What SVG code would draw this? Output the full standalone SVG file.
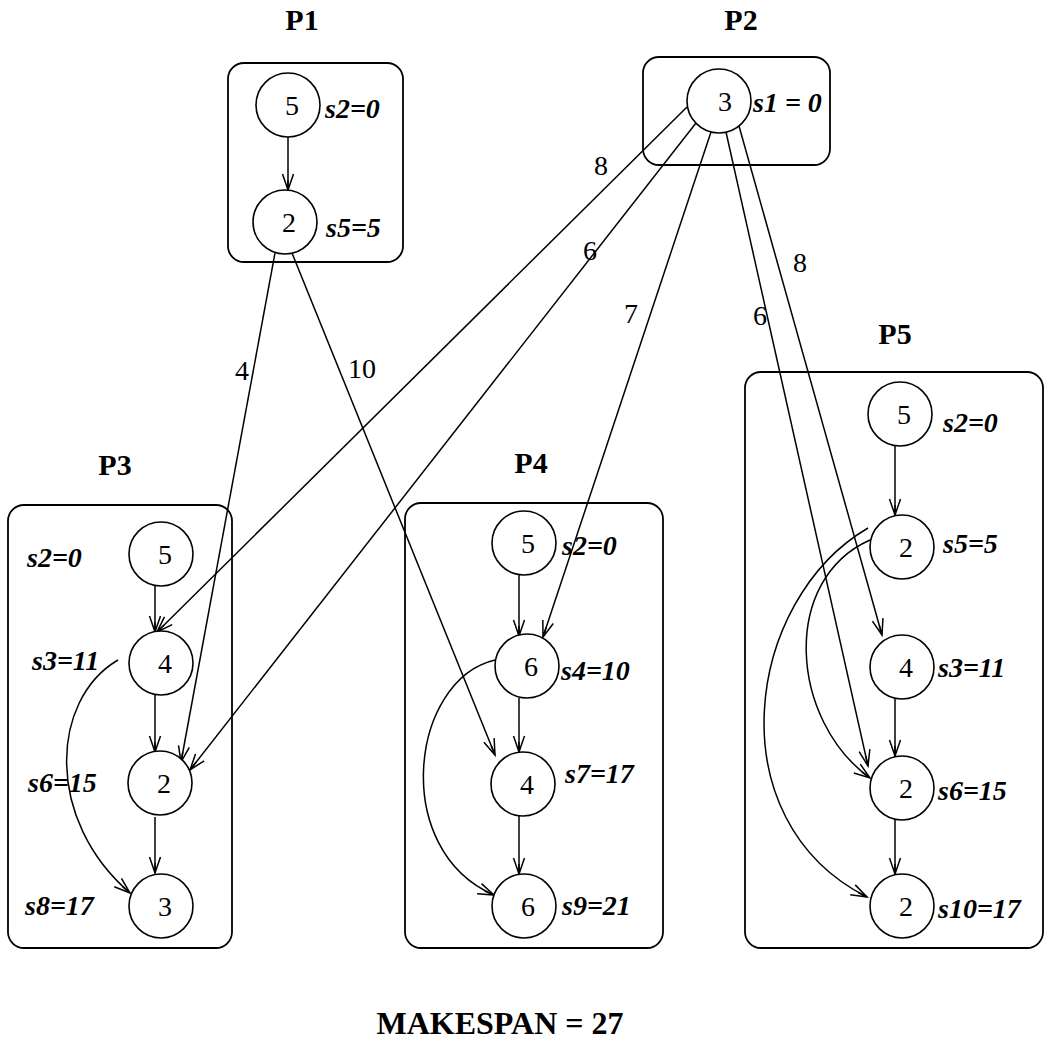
<svg xmlns="http://www.w3.org/2000/svg" width="1045" height="1045" viewBox="0 0 1045 1045">
<style>
  .box{fill:none;stroke:#000;stroke-width:1.8}
  .nd{fill:#fff;stroke:#000;stroke-width:1.6}
  .num{font-family:"Liberation Serif",serif;font-size:28px;text-anchor:middle;fill:#000}
  .lab{font-family:"Liberation Serif",serif;font-size:28px;font-weight:bold;font-style:italic;fill:#000}
  .ttl{font-family:"Liberation Serif",serif;font-size:30px;font-weight:bold;text-anchor:middle;fill:#000}
  .w{font-family:"Liberation Serif",serif;font-size:28px;text-anchor:middle;fill:#000}
  .e{fill:none;stroke:#000;stroke-width:1.5;marker-end:url(#ah)}
</style>
<defs>
  <marker id="ah" markerUnits="userSpaceOnUse" viewBox="-18 -8 20 16" refX="0" refY="0" markerWidth="20" markerHeight="16" orient="auto">
    <path d="M-16,-5.5 L0,0 L-16,5.5 M-10,0 L0,0" fill="none" stroke="#000" stroke-width="1.5"/>
  </marker>
</defs>
<rect width="1045" height="1045" fill="#fff"/>

<g id="titles">
  <text class="ttl" x="302" y="30">P1</text>
  <text class="ttl" x="741" y="30">P2</text>
  <text class="ttl" x="115" y="475">P3</text>
  <text class="ttl" x="531" y="473">P4</text>
  <text class="ttl" x="895" y="344">P5</text>
</g>

<g id="P1">
  <rect class="box" x="228" y="63" width="175" height="199" rx="16"/>
</g>
<g id="P2">
  <rect class="box" x="643" y="57" width="187" height="108" rx="16"/>
</g>
<g id="P3">
  <rect class="box" x="8" y="505" width="224" height="443" rx="16"/>
</g>
<g id="P4">
  <rect class="box" x="405" y="503" width="258" height="445" rx="16"/>
</g>
<g id="P5">
  <rect class="box" x="745" y="372" width="298" height="576" rx="16"/>
</g>

<g id="connectors">
  <!-- inside P1 -->
  <path class="e" d="M288,137 L288,190"/>
  <!-- from P1 node 2 -->
  <path class="e" d="M275,253 L181,762"/>
  <path class="e" d="M292,253 L495,755"/>
  <!-- from P2 node 3 -->
  <path class="e" d="M687,107 L157,632"/>
  <path class="e" d="M696,123 L190,770"/>
  <path class="e" d="M711,132 L543,637"/>
  <path class="e" d="M726,132 L868,766"/>
  <path class="e" d="M739,126 L882,635"/>
  <!-- inside P3 -->
  <path class="e" d="M155,585 L155,632"/>
  <path class="e" d="M155,695 L155,752"/>
  <path class="e" d="M155,817 L155,873"/>
  <path class="e" d="M118,660 C50,700 45,820 130,893"/>
  <!-- inside P4 -->
  <path class="e" d="M519,575 L519,636"/>
  <path class="e" d="M519,698 L519,752"/>
  <path class="e" d="M519,815 L519,874"/>
  <path class="e" d="M495,660 C410,680 390,850 494,895"/>
  <!-- inside P5 -->
  <path class="e" d="M895,445 L895,515"/>
  <path class="e" d="M895,698 L895,756"/>
  <path class="e" d="M895,820 L895,874"/>
  <path class="e" d="M870,540 C780,580 790,720 870,778"/>
  <path class="e" d="M868,528 C745,600 715,820 867,897"/>
</g>

<g id="edge-labels">
  <text class="w" x="601" y="175">8</text>
  <text class="w" x="590" y="260">6</text>
  <text class="w" x="631" y="323">7</text>
  <text class="w" x="760" y="325">6</text>
  <text class="w" x="800" y="272">8</text>
  <text class="w" x="242" y="380">4</text>
  <text class="w" x="362" y="378">10</text>
</g>

<g id="n-P1-a"><circle class="nd" cx="288" cy="105" r="32"/><text class="num" x="292" y="115">5</text><text class="lab" x="325" y="118">s2=0</text></g>
<g id="n-P1-b"><circle class="nd" cx="285" cy="222" r="32"/><text class="num" x="289" y="232">2</text><text class="lab" x="326" y="237">s5=5</text></g>
<g id="n-P2-a"><circle class="nd" cx="719" cy="101" r="32"/><text class="num" x="725" y="111">3</text><text class="lab" x="753" y="112">s1 = 0</text></g>

<g id="n-P3-a"><circle class="nd" cx="161" cy="554" r="32"/><text class="num" x="165" y="564">5</text><text class="lab" x="27" y="567">s2=0</text></g>
<g id="n-P3-b"><circle class="nd" cx="161" cy="663" r="32"/><text class="num" x="165" y="673">4</text><text class="lab" x="32" y="670">s3=11</text></g>
<g id="n-P3-c"><circle class="nd" cx="160" cy="783" r="32"/><text class="num" x="164" y="793">2</text><text class="lab" x="28" y="792">s6=15</text></g>
<g id="n-P3-d"><circle class="nd" cx="161" cy="906" r="32"/><text class="num" x="165" y="916">3</text><text class="lab" x="25" y="915">s8=17</text></g>

<g id="n-P4-a"><circle class="nd" cx="524" cy="543" r="32"/><text class="num" x="528" y="553">5</text><text class="lab" x="562" y="555">s2=0</text></g>
<g id="n-P4-b"><circle class="nd" cx="527" cy="666" r="32"/><text class="num" x="531" y="676">6</text><text class="lab" x="561" y="680">s4=10</text></g>
<g id="n-P4-c"><circle class="nd" cx="523" cy="784" r="32"/><text class="num" x="527" y="794">4</text><text class="lab" x="565" y="783">s7=17</text></g>
<g id="n-P4-d"><circle class="nd" cx="524" cy="906" r="32"/><text class="num" x="528" y="916">6</text><text class="lab" x="562" y="915">s9=21</text></g>

<g id="n-P5-a"><circle class="nd" cx="900" cy="414" r="32"/><text class="num" x="904" y="424">5</text><text class="lab" x="943" y="432">s2=0</text></g>
<g id="n-P5-b"><circle class="nd" cx="902" cy="547" r="32"/><text class="num" x="906" y="557">2</text><text class="lab" x="943" y="553">s5=5</text></g>
<g id="n-P5-c"><circle class="nd" cx="902" cy="667" r="32"/><text class="num" x="906" y="677">4</text><text class="lab" x="938" y="677">s3=11</text></g>
<g id="n-P5-d"><circle class="nd" cx="902" cy="788" r="32"/><text class="num" x="906" y="798">2</text><text class="lab" x="938" y="800">s6=15</text></g>
<g id="n-P5-e"><circle class="nd" cx="902" cy="906" r="32"/><text class="num" x="906" y="916">2</text><text class="lab" x="938" y="918">s10=17</text></g>

<text class="ttl" x="500" y="1034" style="font-size:32px">MAKESPAN = 27</text>
</svg>
